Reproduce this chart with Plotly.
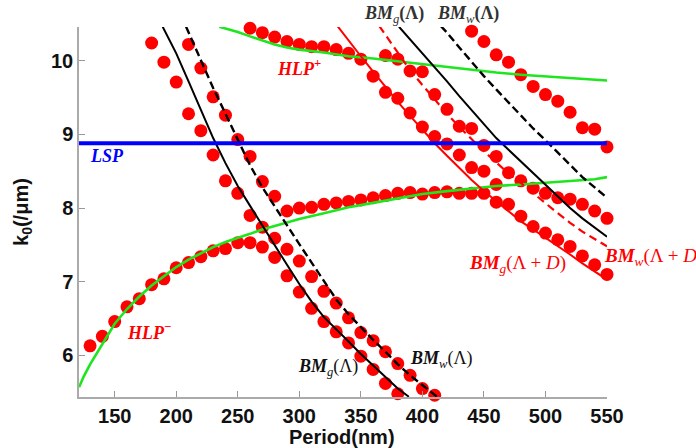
import plotly.graph_objects as go

# ---------------- data ----------------
# red dots (FDTD-like points)
dots_lower_x = [130, 140, 150, 160, 170, 180, 190, 200, 210, 220, 230, 240, 250, 260, 270, 280, 290, 300, 310, 320, 330, 340, 350, 360, 370, 380]
dots_lower_y = [6.13, 6.26, 6.46, 6.66, 6.77, 6.96, 7.04, 7.19, 7.26, 7.34, 7.42, 7.45, 7.53, 7.53, 7.47, 7.33, 7.08, 6.86, 6.64, 6.46, 6.32, 6.17, 5.99, 5.81, 5.62, 5.48]

dots_mid_x = [180, 190, 200, 210, 220, 230, 240, 250, 260, 270, 280, 290, 300, 310, 320, 330, 340, 350, 360, 370, 380, 390, 400, 410]
dots_mid_y = [10.24, 9.98, 9.71, 9.28, 9.05, 8.72, 8.37, 8.2, 7.9, 7.74, 7.59, 7.44, 7.28, 7.07, 6.87, 6.71, 6.51, 6.31, 6.2, 6.05, 5.89, 5.73, 5.55, 5.46]

dots_upper_x = [210, 220, 230, 240, 250, 260, 270, 280, 290, 300, 310, 320, 330, 340, 350, 360, 370, 380, 390, 400, 410, 420, 430, 440, 450, 460, 470, 480, 490, 500, 510, 520, 530, 540, 550]
dots_upper_y = [10.22, 9.9, 9.51, 9.26, 8.93, 8.7, 8.36, 8.16, 7.96, 8.0, 8.01, 8.05, 8.07, 8.09, 8.11, 8.14, 8.17, 8.2, 8.21, 8.19, 8.21, 8.22, 8.2, 8.2, 8.2, 8.08, 8.05, 7.89, 7.75, 7.66, 7.57, 7.48, 7.35, 7.23, 7.1]

dots_hlpp_x = [260, 270, 280, 290, 300, 310, 320, 330, 340, 350, 360, 370, 380, 390, 400, 410, 420, 430, 440, 450, 460]
dots_hlpp_y = [10.44, 10.38, 10.32, 10.26, 10.22, 10.19, 10.19, 10.15, 10.1, 10.02, 9.79, 9.57, 9.49, 9.29, 9.1, 8.97, 8.87, 8.72, 8.55, 8.5, 8.32]

dots_f_x = [370, 380, 390, 400, 410, 420, 430, 440, 450, 460, 470, 480, 490, 500, 510, 520, 530, 540, 550]
dots_f_y = [10.07, 10.02, 9.86, 9.85, 9.54, 9.34, 9.11, 9.08, 8.85, 8.7, 8.48, 8.37, 8.27, 8.2, 8.14, 8.12, 8.05, 7.96, 7.86]

dots_g_x = [440, 450, 460, 470, 480, 490, 500, 510, 520, 530, 540, 550]
dots_g_y = [10.4, 10.26, 10.08, 9.98, 9.81, 9.65, 9.54, 9.45, 9.3, 9.09, 9.07, 8.83]

# black curves BM(Λ)
bmg1_x = [189, 200, 210, 220, 230, 240, 250, 260, 270, 280, 290, 300, 310, 320, 330, 340, 350, 360, 370, 380, 389]
bmg1_y = [10.46, 10.10, 9.72, 9.34, 8.95, 8.61, 8.30, 8.03, 7.76, 7.49, 7.23, 6.97, 6.73, 6.52, 6.36, 6.19, 6.02, 5.86, 5.71, 5.55, 5.44]
bmw1_x = [208, 220, 230, 240, 250, 260, 270, 280, 290, 300, 310, 320, 330, 340, 350, 360, 370, 380, 390, 400, 412]
bmw1_y = [10.46, 10.0, 9.63, 9.28, 8.92, 8.58, 8.28, 8.02, 7.76, 7.51, 7.26, 7.01, 6.76, 6.56, 6.38, 6.21, 6.05, 5.88, 5.73, 5.6, 5.44]
bmg2_x = [381, 390, 400, 410, 420, 430, 440, 450, 460, 470, 480, 490, 500, 510, 520, 530, 540, 550]
bmg2_y = [10.46, 10.29, 10.11, 9.91, 9.72, 9.52, 9.33, 9.14, 8.95, 8.79, 8.63, 8.48, 8.32, 8.16, 8.0, 7.86, 7.74, 7.61]
bmw2_x = [415, 420, 430, 440, 450, 460, 470, 480, 490, 500, 510, 520, 530, 540, 550]
bmw2_y = [10.47, 10.38, 10.18, 9.98, 9.79, 9.61, 9.43, 9.25, 9.08, 8.92, 8.75, 8.58, 8.42, 8.28, 8.14]

# red curves BM(Λ+D)
bmgd_x = [331, 340, 350, 360, 370, 380, 390, 400, 410, 420, 430, 440, 450, 460, 470, 480, 490, 500, 510, 520, 530, 540, 550]
bmgd_y = [10.47, 10.27, 10.06, 9.85, 9.64, 9.44, 9.25, 9.06, 8.88, 8.71, 8.54, 8.38, 8.23, 8.09, 7.95, 7.82, 7.71, 7.6, 7.48, 7.37, 7.25, 7.14, 7.03]
bmwd_x = [365, 380, 390, 400, 410, 420, 430, 440, 450, 460, 470, 480, 490, 500, 510, 520, 530, 540, 550]
bmwd_y = [10.47, 10.1, 9.87, 9.67, 9.47, 9.28, 9.1, 8.93, 8.77, 8.62, 8.47, 8.34, 8.2, 8.06, 7.93, 7.8, 7.68, 7.58, 7.48]

# green hybrid plasmon curves
hlpm_x = [121, 125, 130, 140, 150, 160, 170, 180, 190, 200, 210, 220, 230, 240, 250, 260, 270, 280, 290, 300, 320, 340, 360, 380, 400, 420, 440, 460, 480, 500, 520, 540, 550]
hlpm_y = [5.57, 5.72, 5.88, 6.16, 6.43, 6.63, 6.8, 6.95, 7.08, 7.2, 7.3, 7.39, 7.47, 7.54, 7.59, 7.65, 7.71, 7.76, 7.81, 7.85, 7.93, 8.01, 8.07, 8.13, 8.19, 8.23, 8.27, 8.3, 8.32, 8.34, 8.36, 8.39, 8.42]
hlpp_x = [235, 250, 260, 270, 280, 290, 300, 320, 340, 360, 380, 400, 420, 440, 460, 480, 500, 520, 540, 550]
hlpp_y = [10.46, 10.39, 10.33, 10.27, 10.22, 10.18, 10.15, 10.11, 10.06, 10.03, 9.99, 9.95, 9.91, 9.87, 9.84, 9.81, 9.79, 9.77, 9.75, 9.73]

# LSP
lsp_x = [121, 550]
lsp_y = [8.88, 8.88]

x_ticks = [150, 200, 250, 300, 350, 400, 450, 500, 550]
y_ticks = [6, 7, 8, 9, 10]

# ---------------- figure ----------------
RED = "#FF0000"
GREEN = "#1EE61E"
fig = go.Figure()

for xs, ys in [(dots_lower_x, dots_lower_y), (dots_mid_x, dots_mid_y), (dots_upper_x, dots_upper_y),
               (dots_hlpp_x, dots_hlpp_y), (dots_f_x, dots_f_y), (dots_g_x, dots_g_y)]:
    fig.add_trace(go.Scatter(x=xs, y=ys, mode="markers",
                             marker=dict(size=13, color=RED, line=dict(width=0)),
                             cliponaxis=False, showlegend=False))

def line(xs, ys, color, width, dash="solid"):
    fig.add_trace(go.Scatter(x=xs, y=ys, mode="lines", line=dict(color=color, width=width, dash=dash),
                             showlegend=False))

line(hlpm_x, hlpm_y, GREEN, 2.6)
line(hlpp_x, hlpp_y, GREEN, 2.6)
line(bmg1_x, bmg1_y, "black", 2)
line(bmw1_x, bmw1_y, "black", 2.4, "8px,4px")
line(bmg2_x, bmg2_y, "black", 2)
line(bmw2_x, bmw2_y, "black", 2.4, "8px,4px")
line(bmgd_x, bmgd_y, RED, 2)
line(bmwd_x, bmwd_y, RED, 2.2, "8px,5px")
line(lsp_x, lsp_y, "#0000FF", 4)

serif = "Liberation Serif, Times New Roman, serif"
ann = [
    dict(x=143.7, y=8.70, text="<b><i>LSP</i></b>", color="#0000FF", size=18),
    dict(x=299.8, y=9.905, text="<b><i>HLP</i></b><sup><b>+</b></sup>", color=RED, size=18),
    dict(x=177.9, y=6.322, text="<b><i>HLP</i></b><sup><b>−</b></sup>", color=RED, size=18),
    dict(x=323.4, y=5.833, text="<b><i>BM</i></b><sub><i>g</i></sub>(Λ)", color="#111111", size=18),
    dict(x=415.3, y=5.942, text="<b><i>BM</i></b><sub><i>w</i></sub>(Λ)", color="#111111", size=18),
    dict(x=477.1, y=7.245, text="<b><i>BM</i></b><sub><i>g</i></sub>(Λ + <i>D</i>)", color=RED, size=19),
]
annotations = []
for a in ann:
    annotations.append(dict(x=a["x"], y=a["y"], xref="x", yref="y", text=a["text"], showarrow=False,
                            font=dict(family=serif, size=a["size"], color=a["color"]),
                            xanchor="center", yanchor="middle"))
annotations.append(dict(x=546.0, y=7.34, xref="x", yref="y",
                        text="<b><i>BM</i></b><sub><i>w</i></sub>(Λ + <i>D</i>)", showarrow=False,
                        font=dict(family=serif, size=19, color=RED), xanchor="left", yanchor="middle"))
# labels above the plot area (paper y so they are not hidden)
for xv, txt in [(377.1, "<b><i>BM</i></b><sub><i>g</i></sub><b>(Λ)</b>"),
                (437.2, "<b><i>BM</i></b><sub><i>w</i></sub><b>(Λ)</b>")]:
    annotations.append(dict(x=xv, y=1.035, xref="x", yref="paper", text=txt, showarrow=False,
                            font=dict(family=serif, size=18, color="#333333"),
                            xanchor="center", yanchor="middle"))
# axis titles
annotations.append(dict(x=0.498, y=-0.107, xref="paper", yref="paper", text="<b>Period(nm)</b>",
                        showarrow=False, font=dict(family="Liberation Sans, Arial", size=20, color="#111"),
                        xanchor="center", yanchor="middle"))
annotations.append(dict(x=-0.108, y=0.5, xref="paper", yref="paper", text="<b>k<sub>0</sub>(/μm)</b>",
                        showarrow=False, textangle=-90,
                        font=dict(family="Liberation Sans, Arial", size=20, color="#111"),
                        xanchor="center", yanchor="middle"))

axis_common = dict(showgrid=False, zeroline=False, showline=True, linecolor="#AAAAAA", linewidth=1.5,
                   ticks="inside", ticklen=6, tickcolor="#999999", tickwidth=1.2,
                   tickfont=dict(family="Liberation Sans, Arial", size=20, color="#111", weight="bold"))

fig.update_layout(
    width=696, height=448,
    margin=dict(l=79, r=89, t=27, b=51),
    paper_bgcolor="white", plot_bgcolor="white",
    xaxis=dict(range=[121, 550], tickvals=x_ticks, **axis_common),
    yaxis=dict(range=[5.436, 10.457], tickvals=y_ticks, **axis_common),
    annotations=annotations,
    showlegend=False,
)

fig.write_html("out.html", config={"displayModeBar": False},
               post_script="document.body.style.margin='0px';")
